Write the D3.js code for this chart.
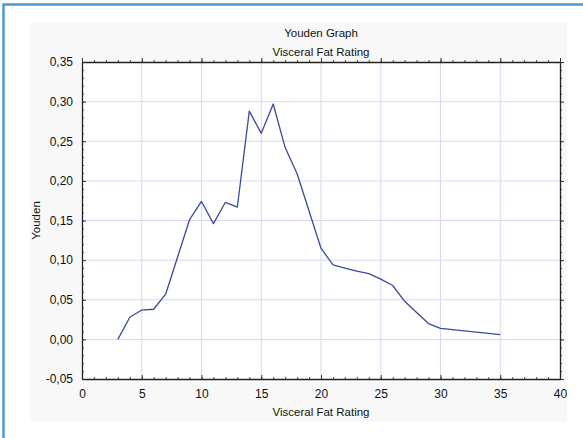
<!DOCTYPE html>
<html>
  <head>
    <meta charset="utf-8">
    <title>Youden Graph</title>
    <script src="https://cdn.jsdelivr.net/npm/d3@7"></script>
    <style>
      body { margin: 0; background: #fff; }
      svg { display: block; }
    </style>
  </head>
  <body>
    <svg></svg>
    <script>
      let rating = [3, 4, 5, 6, 7, 8, 9, 10, 11, 12, 13, 14, 15, 16, 17, 18, 19, 20,
                    21, 22, 23, 24, 25, 26, 27, 28, 29, 30, 35];
      let youden = [0.000, 0.028, 0.037, 0.038, 0.057, 0.104, 0.151, 0.174, 0.146, 0.173,
                    0.167, 0.288, 0.260, 0.297, 0.242, 0.209, 0.162, 0.115,
                    0.094, 0.090, 0.086, 0.083, 0.076, 0.068, 0.048, 0.034, 0.020, 0.014, 0.006];
      let xTicks = [0, 5, 10, 15, 20, 25, 30, 35, 40];
      let yTicks = [-0.05, 0, 0.05, 0.10, 0.15, 0.20, 0.25, 0.30, 0.35];

      let dataset = rating.map((r, i) => ({x: r, y: youden[i]}));

      let w = 583, h = 438;
      let margin = {top: 62, bottom: 59, left: 82, right: 23};
      let fontFamily = `'Liberation Sans', Arial, sans-serif`;
      let fmt = v => d3.format(".2f")(v).replace(".", ",").replace("−", "-");

      let svg = d3.select("svg")
                  .attr("width", w)
                  .attr("height", h);

      //frame and panel
      svg.append("rect")
         .attr("x", 30).attr("y", 23)
         .attr("width", 537).attr("height", 399)
         .attr("fill", "#f8f8f9");

      svg.append("path")
         .attr("d", "M3.5,438V4.5H583")
         .attr("fill", "none")
         .attr("stroke", "#4a9bd5")
         .attr("stroke-width", 2.5);

      let x = d3.scaleLinear()
                .domain([0, 40])
                .range([margin.left, w - margin.right]);

      let y = d3.scaleLinear()
                .domain([-0.05, 0.35])
                .range([h - margin.bottom, margin.top]);

      //plot area
      svg.append("rect")
         .attr("x", x(0)).attr("y", y(0.35))
         .attr("width", x(40) - x(0)).attr("height", y(-0.05) - y(0.35))
         .attr("fill", "#fff");

      //grid
      svg.append("g")
         .selectAll("line")
         .data(xTicks.slice(1, -1))
         .enter().append("line")
         .attr("x1", d => x(d)).attr("x2", d => x(d))
         .attr("y1", y(0.35)).attr("y2", y(-0.05))
         .attr("stroke", "#d8d8f2").attr("stroke-width", 1);

      svg.append("g")
         .selectAll("line")
         .data(yTicks.slice(1, -1))
         .enter().append("line")
         .attr("x1", x(0)).attr("x2", x(40))
         .attr("y1", d => y(d)).attr("y2", d => y(d))
         .attr("stroke", "#d8d8f2").attr("stroke-width", 1);

      //axes with inward ticks
      let styleAxis = g => {
        g.select(".domain").attr("stroke", "#222").attr("stroke-width", 1.3);
        g.selectAll(".tick line").attr("stroke", "#333");
        g.selectAll("text").attr("font-family", fontFamily).attr("font-size", 12).attr("fill", "#111");
      };

      let xMinor = d3.range(0, 41, 1);
      let yMinor = d3.range(-0.05, 0.351, 0.01);

      [[d3.axisBottom, h - margin.bottom, -1], [d3.axisTop, margin.top, 1]].forEach(([ax, ty, dir], k) => {
        svg.append("g")
           .attr("transform", `translate(0,${ty})`)
           .call(ax(x).tickValues(xMinor).tickSize(2 * dir).tickFormat(""))
           .call(g => g.select(".domain").remove())
           .selectAll("line").attr("stroke", "#555");
        svg.append("g")
           .attr("transform", `translate(0,${ty})`)
           .call(ax(x).tickValues(xTicks).tickSizeInner(4 * dir).tickSizeOuter(0)
                   .tickPadding(k == 0 ? 10 : 0).tickFormat(k == 0 ? d3.format("d") : ""))
           .call(styleAxis);
      });

      [[d3.axisLeft, margin.left, 1], [d3.axisRight, w - margin.right, -1]].forEach(([ax, tx, dir], k) => {
        svg.append("g")
           .attr("transform", `translate(${tx},0)`)
           .call(ax(y).tickValues(yMinor).tickSize(2 * -dir).tickFormat(""))
           .call(g => g.select(".domain").remove())
           .selectAll("line").attr("stroke", "#555");
        svg.append("g")
           .attr("transform", `translate(${tx},0)`)
           .call(ax(y).tickValues(yTicks).tickSizeInner(4 * -dir).tickSizeOuter(0)
                   .tickPadding(k == 0 ? 9 : 0).tickFormat(k == 0 ? fmt : ""))
           .call(styleAxis);
      });

      //line
      let line = d3.line()
                   .x(d => x(d.x))
                   .y(d => y(d.y));

      svg.append("path")
         .datum(dataset)
         .attr("d", line)
         .attr("fill", "none")
         .attr("stroke", "#3b4a9c")
         .attr("stroke-width", 1.3)
         .attr("stroke-linejoin", "round");

      //titles
      let addText = (txt, tx, ty, rotate) => {
        svg.append("text")
           .attr("transform", `translate(${tx},${ty})` + (rotate ? " rotate(-90)" : ""))
           .attr("text-anchor", "middle")
           .attr("font-family", fontFamily)
           .attr("font-size", 11.5)
           .attr("fill", "#111")
           .text(txt);
      };

      let cx = (x(0) + x(40)) / 2;
      addText("Youden Graph", cx, 37);
      addText("Visceral Fat Rating", cx, 56);
      addText("Visceral Fat Rating", cx, 416);
      addText("Youden", 40, y(0.15), true);
    </script>
  </body>
</html>
